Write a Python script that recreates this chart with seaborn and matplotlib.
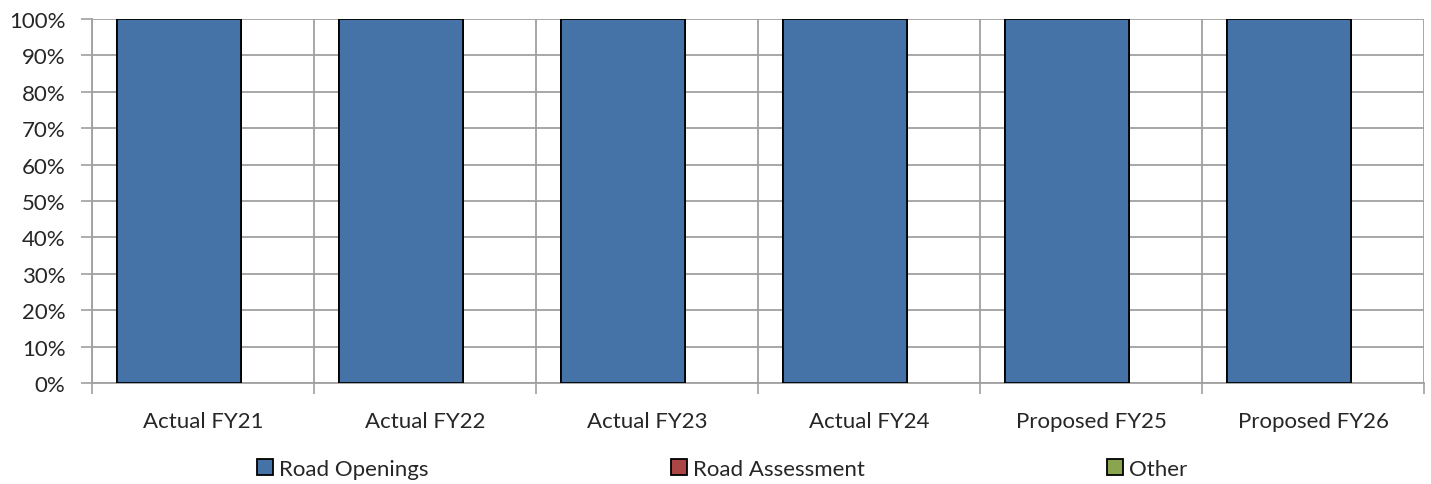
import numpy as np
import pandas as pd
import seaborn as sns
import matplotlib
matplotlib.use("Agg")
import matplotlib.pyplot as plt
from matplotlib.patches import Patch
from matplotlib.ticker import FuncFormatter

# ---- data ----------------------------------------------------------------- #
years = ["Actual FY21", "Actual FY22", "Actual FY23", "Actual FY24",
         "Proposed FY25", "Proposed FY26"]
road_openings = [100, 100, 100, 100, 100, 100]
road_assessment = [0, 0, 0, 0, 0, 0]
other = [0, 0, 0, 0, 0, 0]

series_names = ["Road Openings", "Road Assessment", "Other"]
series_colors = ["#4572A7", "#AA4643", "#89A54E"]

df = pd.DataFrame({"year": years, "Road Openings": road_openings,
                   "Road Assessment": road_assessment, "Other": other})
# cumulative tops for the stack
df["cum1"] = df["Road Openings"]
df["cum2"] = df["cum1"] + df["Road Assessment"]
df["cum3"] = df["cum2"] + df["Other"]

# ---- plot ----------------------------------------------------------------- #
sns.set_theme(style="white")
plt.rcParams["font.family"] = ["Lato", "DejaVu Sans"]
fs = 16

fig = plt.figure(figsize=(14.31, 4.85), dpi=100)
ax = fig.add_axes([92 / 1431, 1 - 384 / 485, (1424 - 92) / 1431, (384 - 20) / 485])

bar_w = 0.558
shift = -0.108
# draw top of stack first so lower segments sit on top
for col, c in zip(["cum3", "cum2", "cum1"], series_colors[::-1]):
    sns.barplot(data=df, x="year", y=col, color=c, width=bar_w,
                edgecolor="black", linewidth=1.3, saturation=1, ax=ax, zorder=3)

for p in ax.patches:
    p.set_x(p.get_x() + shift)

n = len(years)
ax.set_xlim(-0.5, n - 0.5)
ax.set_ylim(0, 100)
ax.set_xlabel("")
ax.set_ylabel("")

# category boundaries as major ticks (grid), labels at centers as minor ticks
ax.set_xticks(np.arange(-0.5, n, 1.0))
ax.set_xticklabels([])
ax.set_xticks(np.arange(n), minor=True)
ax.set_xticklabels(years, minor=True, fontsize=fs)
ax.tick_params(axis="x", which="major", length=8, width=1.2, color="#a0a0a0",
               direction="out", bottom=True)
ax.tick_params(axis="x", which="minor", length=0, pad=20)

ax.set_yticks(np.arange(0, 101, 10))
ax.yaxis.set_major_formatter(FuncFormatter(lambda v, _: f"{v:.0f}%"))
ax.tick_params(axis="y", length=8, width=1.2, color="#a0a0a0", direction="out",
               left=True, labelsize=fs, pad=11)

ax.grid(True, which="major", color="#a0a0a0", linewidth=1.3, zorder=0)
ax.set_axisbelow(True)
for s in ["left", "bottom"]:
    ax.spines[s].set_color("#a0a0a0")
    ax.spines[s].set_linewidth(1.3)
for s in ["top", "right"]:
    ax.spines[s].set_visible(False)

handles = [Patch(facecolor=c, edgecolor="black", linewidth=1.3, label=n_)
           for n_, c in zip(series_names, series_colors)]
fig.legend(handles=handles, loc="center left", bbox_to_anchor=(257 / 1431, 1 - 470 / 485),
           ncol=3, frameon=False, fontsize=fs, handlelength=0.7, handleheight=0.7,
           handletextpad=0.3, columnspacing=10.9, borderaxespad=0, borderpad=0)

fig.savefig("out.png", dpi=100)
